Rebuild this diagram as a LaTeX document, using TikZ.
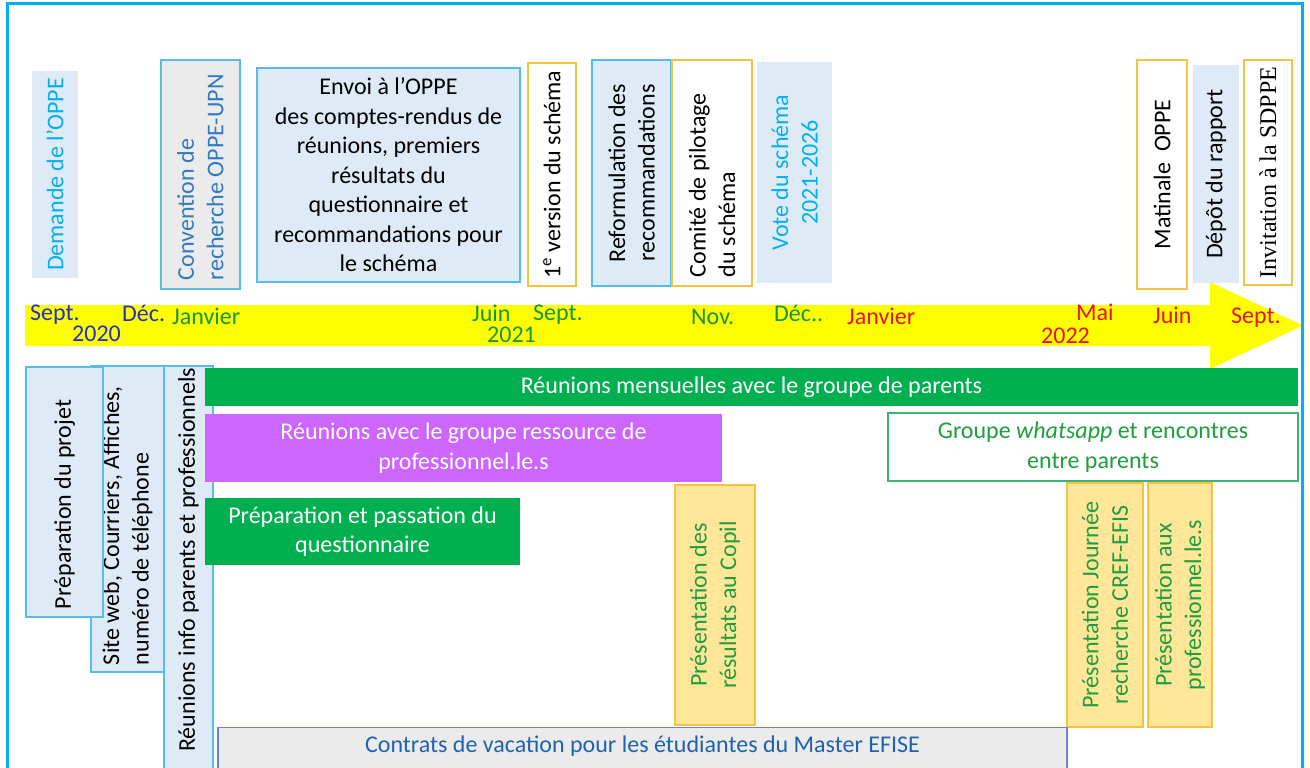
\documentclass[tikz,border=0pt]{standalone}
\usepackage{fontspec}
\setmainfont{Carlito}
\newfontfamily\serifface{Liberation Serif}
\newcommand\fs{\fontsize{24bp}{29.5bp}\selectfont}
\definecolor{framecyan}{HTML}{00B0F0}
\definecolor{lightblue}{HTML}{DEEBF7}
\definecolor{bordercyan}{HTML}{55BDEA}
\definecolor{goldline}{HTML}{F5C342}
\definecolor{yellowfill}{HTML}{FFE699}
\definecolor{barGreen}{HTML}{00B050}
\definecolor{barPurple}{HTML}{CC66FF}
\definecolor{grayfill}{HTML}{EBEBEB}
\definecolor{textcyan}{HTML}{00B0F0}
\definecolor{convblue}{HTML}{2E7BC4}
\definecolor{contratblue}{HTML}{1F63B0}
\definecolor{contratborder}{HTML}{7281D6}
\definecolor{textgreen}{HTML}{1E9E3C}
\definecolor{wborder}{HTML}{3DB37A}
\definecolor{tlblue}{HTML}{2234BB}
\definecolor{tlred}{HTML}{E8141A}
\definecolor{tlgreen}{HTML}{16963A}
\definecolor{arrowyellow}{HTML}{FFFF00}
\begin{document}
\begin{tikzpicture}[x=1bp,y=-1bp,
  base/.style={inner sep=0pt, font=\fs, align=center},
  vbox/.style={base, rotate=90},
  vsize/.style 2 args={minimum width=#2, minimum height=#1},
  hsize/.style 2 args={minimum width=#1, minimum height=#2},
  bluebox/.style={fill=lightblue, draw=bordercyan, line width=1.2bp},
  plainblue/.style={fill=lightblue},
  goldbox/.style={fill=white, draw=goldline, line width=1.2bp},
  yellowbox/.style={fill=yellowfill, draw=goldline, line width=1.2bp, text=textgreen},
  greenbar/.style={base, fill=barGreen, text=white},
  tl/.style={inner sep=0pt, anchor=base west, font=\fs}
]
\useasboundingbox (0,0) rectangle (1310,767);
\clip (0,0) rectangle (1310,767);

% timeline arrow
\fill[arrowyellow] (25,305) -- (1210,305) -- (1210,282) -- (1303,325.5)
  -- (1210,369) -- (1210,346) -- (25,346) -- cycle;

% top boxes
\node[vbox, plainblue, vsize={46bp}{207bp}, text=textcyan] (demande) at (55,174.5) {Demande de l’OPPE};
\node[vbox, bluebox, fill=grayfill, vsize={79bp}{229bp}, text width=211bp, align=flush left, text=convblue] (convention) at (200.5,174.5) {Convention de\\recherche OPPE-UPN};
\node[base, bluebox, hsize={263bp}{214bp}] (envoi) at (388.5,175) {Envoi à l’OPPE\\des comptes-rendus de\\réunions, premiers\\résultats du\\questionnaire et\\recommandations pour\\le schéma};
\node[vbox, goldbox, vsize={48bp}{223bp}] (version) at (552,174.5) {1\textsuperscript{e} version du schéma};
\node[vbox, bluebox, vsize={79bp}{226bp}] (reform) at (631.5,173) {Reformulation des\\recommandations};
\node[vbox, goldbox, vsize={80bp}{226bp}, text width=208bp, align=flush left] (comite) at (712,173) {Comité de pilotage\\du schéma};
\node[vbox, plainblue, vsize={75bp}{221bp}, text=textcyan] (vote) at (794.5,172.5) {Vote du schéma\\2021-2026};
\node[vbox, goldbox, vsize={50bp}{229bp}] (matinale) at (1162,174.5) {Matinale\ \ OPPE};
\node[vbox, plainblue, vsize={46bp}{218bp}] (depot) at (1216,174) {Dépôt du rapport};
\node[vbox, goldbox, vsize={48bp}{225bp}, font=\serifface\fs] (invit) at (1268,172.5) {Invitation à la SDPPE};

% timeline labels
\node[tl, text=tlblue] (sept20) at (30,320) {Sept.};
\node[tl, text=tlblue] (y2020) at (72,341) {2020};
\node[tl, text=tlblue] (dec20) at (122,321) {Déc.};
\node[tl, text=tlgreen] (jan21) at (172,324) {Janvier};
\node[tl, text=tlgreen] (juin21) at (472,321) {Juin};
\node[tl, text=tlgreen] (y2021) at (487,342) {2021};
\node[tl, text=tlgreen] (sept21) at (533,320) {Sept.};
\node[tl, text=tlgreen] (nov21) at (691,324) {Nov.};
\node[tl, text=tlgreen] (dec21) at (774,321) {Déc..};
\node[tl, text=tlred] (jan22) at (847,324) {Janvier};
\node[tl, text=tlred] (mai22) at (1076,320) {Mai};
\node[tl, text=tlred] (y2022) at (1041,343) {2022};
\node[tl, text=tlred] (juin22) at (1153,323) {Juin};
\node[tl, text=tlred] (sept22) at (1231,323) {Sept.};

% bottom left vertical boxes
\node[vbox, bluebox, vsize={73bp}{306bp}, text width=292bp, align=flush left] (siteweb) at (127.5,519) {Site web, Courriers, Affiches,\\numéro de téléphone};
\node[vbox, bluebox, vsize={77bp}{250bp}, text width=234bp, align=flush left] (prepproj) at (64.5,492) {Préparation du projet};
\node[vbox, bluebox, vsize={49bp}{424bp}, text width=420bp, align=flush right] (reuinfo) at (188.5,578) {Réunions info parents et professionnels};

% bars
\node[greenbar, hsize={1093bp}{38bp}] (mensuel) at (751.5,387) {Réunions mensuelles avec le groupe de parents};
\node[base, fill=barPurple, text=white, hsize={517bp}{68bp}] (ressource) at (463.5,448) {Réunions avec le groupe ressource de\\professionnel.le.s};
\node[base, fill=white, draw=wborder, line width=1.2bp, text=textgreen, hsize={410bp}{68bp}] (whatsapp) at (1093,447) {Groupe \textit{whatsapp} et rencontres\\entre parents};
\node[greenbar, hsize={315bp}{67bp}] (questionnaire) at (362.5,531.5) {Préparation et passation du\\questionnaire};

% presentations
\node[vbox, yellowbox, vsize={80bp}{240bp}] (copil) at (715,605) {Présentation des\\résultats au Copil};
\node[vbox, yellowbox, vsize={76bp}{244bp}] (journee) at (1105,605) {Présentation Journée\\recherche CREF-EFIS};
\node[vbox, yellowbox, vsize={64bp}{244bp}] (profs) at (1180,605) {Présentation aux\\professionnel.le.s};

% contrats
\node[base, anchor=north, fill=grayfill, draw=contratborder, line width=1.2bp, text=contratblue,
  minimum width=849bp, text height=25bp, text depth=30bp] (contrats) at (642.5,727) {Contrats de vacation pour les étudiantes du Master EFISE};

% frame
\draw[framecyan, line width=3bp] (7,4) rectangle (1302,800);
\end{tikzpicture}
\end{document}
